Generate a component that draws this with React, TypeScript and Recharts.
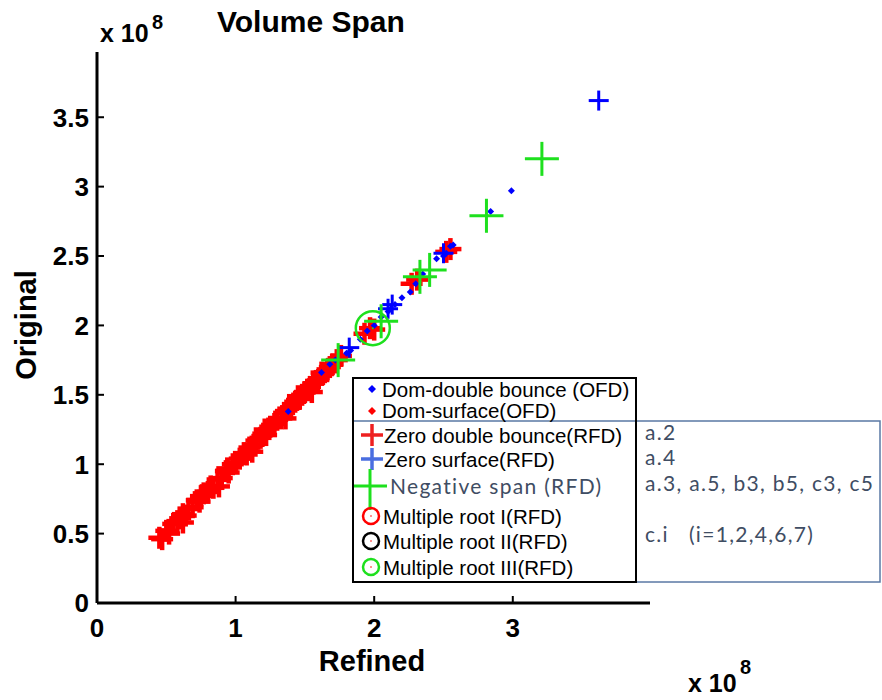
import { ScatterChart, Scatter, XAxis, YAxis } from "recharts";

// values in units of 1e8 : [refined, original]
const zeroDoubleBounce: [number, number][] = [
  [0.45, 0.47], [0.47, 0.46], [0.5, 0.52], [0.52, 0.5], [0.55, 0.57],
  [0.58, 0.59], [0.6, 0.61], [0.62, 0.64], [0.64, 0.63], [0.66, 0.68],
  [0.69, 0.69], [0.72, 0.74], [0.74, 0.73], [0.77, 0.79], [0.8, 0.8],
  [0.82, 0.84], [0.84, 0.83], [0.87, 0.89], [0.9, 0.9], [0.93, 0.95],
  [0.95, 0.94], [0.98, 1.0], [1.0, 1.01], [1.03, 1.04], [1.06, 1.08],
  [1.08, 1.07], [1.1, 1.12], [1.13, 1.14], [1.15, 1.17], [1.18, 1.19],
  [1.2, 1.22], [1.22, 1.21], [1.25, 1.27], [1.28, 1.29], [1.3, 1.32],
  [1.33, 1.33], [1.35, 1.37], [1.38, 1.4], [1.4, 1.41], [1.43, 1.45],
  [1.46, 1.47], [1.48, 1.5], [1.5, 1.52], [1.53, 1.54], [1.56, 1.58],
  [1.58, 1.6], [1.6, 1.62], [1.63, 1.65], [1.66, 1.67], [1.68, 1.7],
  [1.7, 1.72], [1.73, 1.75], [1.76, 1.78], [1.93, 1.94], [1.97, 1.98],
  [2.0, 1.97], [2.27, 2.3], [2.31, 2.33], [2.55, 2.55], [2.52, 2.53],
  [0.62, 0.58], [0.75, 0.77], [0.88, 0.84], [0.94, 0.97], [1.12, 1.09],
  [1.21, 1.25], [1.36, 1.33], [1.45, 1.49], [1.55, 1.52], [1.62, 1.66],
];
const domSurface: [number, number][] = [[0.6, 0.6], [1.0, 1.0], [1.5, 1.5]];
const domDoubleBounce: [number, number][] = [
  [1.38, 1.38], [1.62, 1.66], [1.68, 1.72], [1.72, 1.75], [1.8, 1.8],
  [1.83, 1.82], [1.9, 1.9], [1.95, 1.96], [2.0, 2.0], [2.05, 2.06],
  [2.1, 2.1], [2.12, 2.12], [2.15, 2.15], [2.2, 2.2], [2.26, 2.24],
  [2.3, 2.3], [2.35, 2.37], [2.45, 2.48], [2.5, 2.5], [2.52, 2.52],
  [2.55, 2.57], [2.57, 2.58], [2.84, 2.82], [2.99, 2.97],
];
const zeroSurface: [number, number][] = [
  [1.82, 1.84], [2.1, 2.12], [2.13, 2.15], [2.5, 2.52], [3.62, 3.62],
];
const negativeSpan: [number, number][] = [
  [1.74, 1.75], [2.05, 2.03], [2.33, 2.35], [2.4, 2.4], [2.81, 2.79], [3.21, 3.2],
];
const multipleRoot3: [number, number][] = [[1.99, 1.98]];

const xTicks = [0, 1, 2, 3];
const yTicks = [0, 0.5, 1, 1.5, 2, 2.5, 3, 3.5];

const toPts = (arr: [number, number][]) => arr.map(([x, y]) => ({ x, y }));

const RED = "#ff0000";
const BLUE = "#0000ff";
const GREEN = "#1ee01e";
const SLATE = "#3f4d63";

const boldFont = { fontFamily: "'Liberation Sans', Arial, sans-serif", fontWeight: 700 };
const legFont = { fontFamily: "'Liberation Sans', Arial, sans-serif", fontSize: 20.5, fill: "#000" };
const calFont = { fontFamily: "Lato, 'Liberation Sans', sans-serif", fontSize: 21, fill: SLATE, letterSpacing: 1.3 };

const plus = (color: string, size: number, sw: number) => (p: any) => (
  <g>
    <line x1={p.cx - size / 2} x2={p.cx + size / 2} y1={p.cy} y2={p.cy} stroke={color} strokeWidth={sw} />
    <line x1={p.cx} x2={p.cx} y1={p.cy - size / 2} y2={p.cy + size / 2} stroke={color} strokeWidth={sw} />
  </g>
);

const diamond = (color: string, r: number) => (p: any) => (
  <polygon
    points={`${p.cx},${p.cy - r} ${p.cx + r},${p.cy} ${p.cx},${p.cy + r} ${p.cx - r},${p.cy}`}
    fill={color}
  />
);

const ring = (color: string, r: number) => (p: any) => (
  <g>
    <circle cx={p.cx} cy={p.cy} r={r} fill="none" stroke={color} strokeWidth={2.5} />
    <circle cx={p.cx} cy={p.cy} r={1} fill={color} />
  </g>
);

const XTick = ({ x, y, payload }: any) => (
  <g>
    <line x1={x} x2={x} y1={y} y2={y - 7} stroke="#000" strokeWidth={2} />
    <text x={x} y={y + 34} textAnchor="middle" style={{ ...boldFont, fontSize: 26 }}>
      {String(payload.value)}
    </text>
  </g>
);

const YTick = ({ x, y, payload }: any) => (
  <g>
    <line x1={x} x2={x + 7} y1={y} y2={y} stroke="#000" strokeWidth={2} />
    <text x={x - 8} y={y} dy="0.36em" textAnchor="end" style={{ ...boldFont, fontSize: 26 }}>
      {String(payload.value)}
    </text>
  </g>
);

function Overlay() {
  return (
    <svg
      width={882}
      height={700}
      style={{ position: "absolute", left: 0, top: 0, pointerEvents: "none" }}
    >
      <text x={217} y={32} style={{ ...boldFont, fontSize: 30 }}>Volume Span</text>
      <text x={100} y={42} style={{ ...boldFont, fontSize: 25 }}>x 10</text>
      <text x={152} y={29} style={{ ...boldFont, fontSize: 20 }}>8</text>
      <text x={372} y={671} textAnchor="middle" style={{ ...boldFont, fontSize: 29 }}>Refined</text>
      <text x={688} y={692} style={{ ...boldFont, fontSize: 25 }}>x 10</text>
      <text x={740} y={674} style={{ ...boldFont, fontSize: 20 }}>8</text>
      <text
        x={36}
        y={325}
        textAnchor="middle"
        transform="rotate(-90 36 325)"
        style={{ ...boldFont, fontSize: 29 }}
      >
        Original
      </text>

      {/* legend boxes */}
      <rect x={353} y={421} width={527} height={161} fill="#fff" stroke="#5a78a4" strokeWidth={1.5} />
      <rect x={353} y={378} width={283} height={204} fill="none" stroke="#000" strokeWidth={2} />
      <rect x={354} y={379} width={281} height={41} fill="#fff" />

      <polygon points="372,385 376,389 372,393 368,389" fill={BLUE} />
      <text x={382} y={397} style={legFont}>Dom-double bounce (OFD)</text>
      <polygon points="372,407 376,411 372,415 368,411" fill={RED} />
      <text x={382} y={418} style={legFont}>Dom-surface(OFD)</text>

      <line x1={361} x2={383} y1={435} y2={435} stroke="#ee2020" strokeWidth={3.5} />
      <line x1={372} x2={372} y1={424} y2={446} stroke="#ee2020" strokeWidth={3.5} />
      <text x={384} y={443} style={legFont}>Zero double bounce(RFD)</text>

      <line x1={361} x2={383} y1={459} y2={459} stroke="#4a6ee0" strokeWidth={3.5} />
      <line x1={372} x2={372} y1={448} y2={470} stroke="#4a6ee0" strokeWidth={3.5} />
      <text x={384} y={467} style={legFont}>Zero surface(RFD)</text>

      <line x1={354} x2={387} y1={486} y2={486} stroke={GREEN} strokeWidth={3} />
      <line x1={370} x2={370} y1={469} y2={510} stroke={GREEN} strokeWidth={3} />
      <text x={390} y={494} style={calFont}>Negative span (RFD)</text>

      <circle cx={371} cy={516} r={8} fill="none" stroke={RED} strokeWidth={2.5} />
      <circle cx={371} cy={516} r={0.8} fill={RED} />
      <text x={383} y={524} style={legFont}>Multiple root I(RFD)</text>
      <circle cx={371} cy={541} r={8} fill="none" stroke="#000" strokeWidth={2.5} />
      <circle cx={371} cy={541} r={0.8} fill={RED} />
      <text x={383} y={549} style={legFont}>Multiple root II(RFD)</text>
      <circle cx={371} cy={567} r={8} fill="none" stroke={GREEN} strokeWidth={2.5} />
      <circle cx={371} cy={567} r={0.8} fill={RED} />
      <text x={383} y={575} style={legFont}>Multiple root III(RFD)</text>

      <text x={645} y={440} style={calFont}>a.2</text>
      <text x={645} y={465} style={calFont}>a.4</text>
      <text x={645} y={491} style={calFont}>a.3, a.5, b3, b5, c3, c5</text>
      <text x={645} y={542} style={{ ...calFont, whiteSpace: "pre" }}>
        {"c.i   (i=1,2,4,6,7)"}
      </text>
    </svg>
  );
}

export default function App() {
  return (
    <div style={{ position: "absolute", left: 0, top: 0, width: 882, height: 700, background: "#fff" }}>
      <ScatterChart width={882} height={700} margin={{ top: 52, right: 232, bottom: 57, left: 37 }}>
        <XAxis
          type="number"
          dataKey="x"
          domain={[0, 3.99]}
          ticks={xTicks}
          interval={0}
          allowDataOverflow
          height={40}
          tickSize={0}
          tickMargin={0}
          tickLine={false}
          axisLine={{ stroke: "#000", strokeWidth: 3 }}
          tick={<XTick />}
        />
        <YAxis
          type="number"
          dataKey="y"
          domain={[0, 3.97]}
          ticks={yTicks}
          interval={0}
          allowDataOverflow
          width={60}
          tickSize={0}
          tickMargin={0}
          tickLine={false}
          axisLine={{ stroke: "#000", strokeWidth: 3 }}
          tick={<YTick />}
        />
        <Scatter data={toPts(zeroDoubleBounce)} shape={plus(RED, 22, 4.5)} isAnimationActive={false} />
        <Scatter data={toPts(domSurface)} shape={diamond(RED, 3.5)} isAnimationActive={false} />
        <Scatter data={toPts(domDoubleBounce)} shape={diamond(BLUE, 3.5)} isAnimationActive={false} />
        <Scatter data={toPts(zeroSurface)} shape={plus(BLUE, 20, 3)} isAnimationActive={false} />
        <Scatter data={toPts(negativeSpan)} shape={plus(GREEN, 34, 3)} isAnimationActive={false} />
        <Scatter data={toPts(multipleRoot3)} shape={ring(GREEN, 17)} isAnimationActive={false} />
      </ScatterChart>
      <Overlay />
    </div>
  );
}
